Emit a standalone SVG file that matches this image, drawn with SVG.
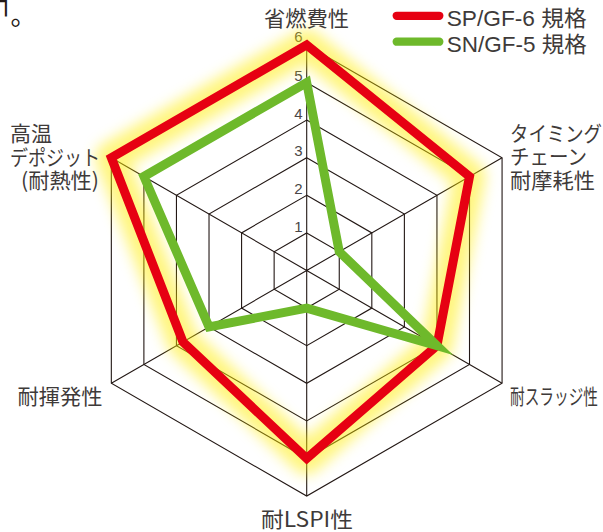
<svg xmlns="http://www.w3.org/2000/svg" width="603" height="532" viewBox="0 0 603 532">
<defs>
<style>
.grid{fill:none;stroke:#231815;stroke-width:1.1}
.lbl{font-family:"Noto Sans CJK JP","Noto Sans CJK SC",sans-serif;font-size:21px;fill:#3e3a39}
.tick{font-family:"Liberation Sans",Arial,sans-serif;font-size:15px;fill:#4a4646;text-anchor:middle}
.leg{font-family:"Liberation Sans","Noto Sans CJK JP",sans-serif;font-size:22px;fill:#3e3a39}
.red{fill:none;stroke:#e60012;stroke-width:9;stroke-linejoin:miter;stroke-miterlimit:10}
.green{fill:none;stroke:#6eb92b;stroke-width:9;stroke-linejoin:miter;stroke-miterlimit:10}
</style>
<filter id="glow" filterUnits="userSpaceOnUse" x="0" y="0" width="603" height="532">
<feGaussianBlur stdDeviation="7"/>
</filter>
</defs>
<rect width="603" height="532" fill="#ffffff"/>

<g id="fragment">
<text x="-2" y="10" style="font-family:'DejaVu Sans',sans-serif;font-size:26px;fill:#231815">┐</text>
<text x="10.4" y="25" style="font-family:'Noto Sans CJK JP',sans-serif;font-size:26px;fill:#231815">。</text>
</g>

<g id="grid">
<polygon class="grid" points="306.7,232.9 339.26,251.7 339.26,289.3 306.7,308.1 274.14,289.3 274.14,251.7"/>
<polygon class="grid" points="306.7,195.3 371.82,232.9 371.82,308.1 306.7,345.7 241.58,308.1 241.58,232.9"/>
<polygon class="grid" points="306.7,157.7 404.38,214.1 404.38,326.9 306.7,383.3 209.02,326.9 209.02,214.1"/>
<polygon class="grid" points="306.7,120.1 436.95,195.3 436.95,345.7 306.7,420.9 176.45,345.7 176.45,195.3"/>
<polygon class="grid" points="306.7,82.5 469.51,176.5 469.51,364.5 306.7,458.5 143.89,364.5 143.89,176.5"/>
<polygon class="grid" points="306.7,44.9 502.07,157.7 502.07,383.3 306.7,496.1 111.33,383.3 111.33,157.7"/>
<path class="grid" d="M306.7,270.5V44.9M306.7,270.5V496.1M306.7,270.5L502.07,157.7M306.7,270.5L502.07,383.3M306.7,270.5L111.33,157.7M306.7,270.5L111.33,383.3"/>
</g>

<g id="ticks">
<text class="tick" x="298.5" y="232">1</text>
<text class="tick" x="298.5" y="193.8">2</text>
<text class="tick" x="298.5" y="155.5">3</text>
<text class="tick" x="298.5" y="118.8">4</text>
<text class="tick" x="298.5" y="80.5">5</text>
<text class="tick" x="298.5" y="42.2">6</text>
</g>

<g id="glow-band" filter="url(#glow)" opacity="0.5">
<polygon points="306.7,44.9 469.51,176.5 436.95,345.7 306.7,458.5 182.96,341.94 111.33,157.7" fill="none" stroke="#ffec00" stroke-width="32" stroke-linejoin="round"/>
</g>

<g id="series-sp">
<polygon class="red" points="306.7,44.9 469.51,176.5 436.95,345.7 306.7,458.5 182.96,341.94 111.33,157.7"/>
</g>
<g id="series-sn">
<polygon class="green" points="306.7,82.5 339.26,251.7 436.95,345.7 306.7,308.1 209.02,326.9 143.89,176.5"/>
</g>

<g id="axis-labels">
<text class="lbl" x="264" y="25.5" textLength="85" lengthAdjust="spacingAndGlyphs">省燃費性</text>
<text class="lbl" x="510" y="140.5" textLength="92" lengthAdjust="spacingAndGlyphs">タイミング</text>
<text class="lbl" x="510" y="164" textLength="77" lengthAdjust="spacingAndGlyphs">チェーン</text>
<text class="lbl" x="510" y="187.5" textLength="85" lengthAdjust="spacingAndGlyphs">耐摩耗性</text>
<text class="lbl" x="510" y="404" textLength="88" lengthAdjust="spacingAndGlyphs">耐スラッジ性</text>
<text class="lbl" x="261" y="527" textLength="92" lengthAdjust="spacingAndGlyphs">耐LSPI性</text>
<text class="lbl" x="17.5" y="404" textLength="85" lengthAdjust="spacingAndGlyphs">耐揮発性</text>
<text class="lbl" x="10" y="141" textLength="42" lengthAdjust="spacingAndGlyphs">高温</text>
<text class="lbl" x="10" y="164.5" textLength="90" lengthAdjust="spacingAndGlyphs">デポジット</text>
<text class="lbl" x="21" y="188" textLength="78" lengthAdjust="spacingAndGlyphs">(耐熱性)</text>
</g>

<g id="legend">
<line x1="396.7" y1="15.8" x2="439.3" y2="15.8" stroke="#e60012" stroke-width="8.3" stroke-linecap="round"/>
<line x1="396.7" y1="41.7" x2="439.3" y2="41.7" stroke="#6eb92b" stroke-width="8.3" stroke-linecap="round"/>
<text class="leg" x="446.7" y="26" textLength="140" lengthAdjust="spacingAndGlyphs">SP/GF-6 規格</text>
<text class="leg" x="446.7" y="51.5" textLength="140" lengthAdjust="spacingAndGlyphs">SN/GF-5 規格</text>
</g>
</svg>
